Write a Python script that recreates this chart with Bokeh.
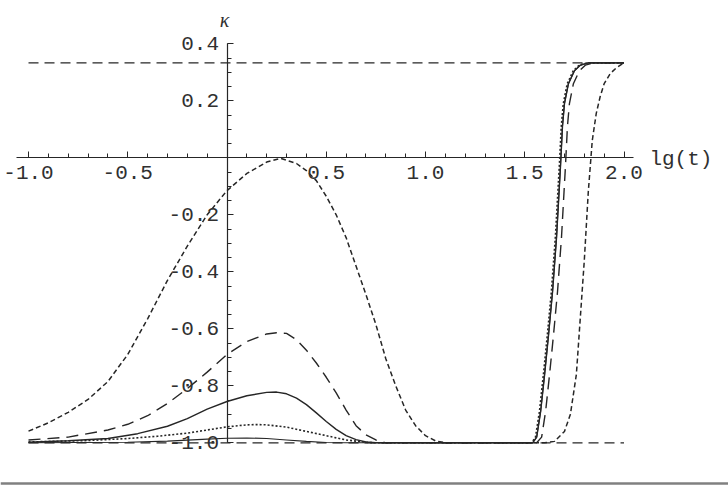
from bokeh.plotting import figure
from bokeh.models import Range1d, FixedTicker, PrintfTickFormatter, Label, Span
from bokeh.embed import file_html
from bokeh.resources import INLINE

# ---------------- data ----------------
asym_top = 1.0 / 3.0
asym_bottom = -1.0
asym_x = [-1.0, 2.0]

# short-dashed curve
xA = [-1.0, -0.9, -0.8, -0.7, -0.6, -0.5, -0.4, -0.3, -0.2, -0.1, 0.0, 0.1, 0.2, 0.27, 0.35,
      0.4, 0.45, 0.5, 0.55, 0.6, 0.65, 0.7, 0.75, 0.8, 0.85, 0.9, 0.95, 1.0, 1.05, 1.1,
      1.6, 1.65, 1.7, 1.73, 1.76, 1.78, 1.8, 1.82, 1.84, 1.86, 1.88, 1.9, 1.93, 1.96, 2.0]
yA = [-0.959, -0.93, -0.893, -0.848, -0.785, -0.69, -0.565, -0.43, -0.31, -0.2, -0.115, -0.055, -0.015, -0.002, -0.02,
      -0.045, -0.08, -0.135, -0.2, -0.28, -0.38, -0.48, -0.585, -0.705, -0.8, -0.885, -0.94, -0.975, -0.993, -1.0,
      -1.0, -0.995, -0.96, -0.9, -0.76, -0.56, -0.36, -0.12, 0.06, 0.155, 0.215, 0.26, 0.295, 0.315, 0.333]

# long-dashed curve
xB = [-1.0, -0.8, -0.6, -0.5, -0.4, -0.3, -0.2, -0.1, 0.0, 0.1, 0.2, 0.25, 0.3, 0.35, 0.4, 0.45, 0.5,
      0.55, 0.6, 0.65, 0.7, 0.75, 0.8,
      1.56, 1.585, 1.605, 1.625, 1.645, 1.665, 1.685, 1.705, 1.715, 1.725, 1.745, 1.775, 1.805, 1.845, 2.0]
yB = [-0.99, -0.98, -0.955, -0.935, -0.905, -0.862, -0.81, -0.752, -0.69, -0.645, -0.618, -0.614, -0.616,
      -0.638, -0.675, -0.72, -0.77, -0.825, -0.885, -0.94, -0.972, -0.99, -1.0,
      -1.0, -0.98, -0.89, -0.76, -0.62, -0.47, -0.28, -0.03, 0.11, 0.19, 0.26, 0.305, 0.325, 0.333, 0.333]

# solid curve
xC = [-1.0, -0.8, -0.6, -0.45, -0.3, -0.2, -0.1, 0.0, 0.1, 0.2, 0.25, 0.3, 0.35, 0.4, 0.45, 0.5, 0.55,
      0.6, 0.65, 0.7, 0.75,
      1.54, 1.56, 1.58, 1.6, 1.62, 1.64, 1.66, 1.68, 1.69, 1.7, 1.72, 1.75, 1.78, 1.82, 2.0]
yC = [-0.998, -0.993, -0.985, -0.968, -0.942, -0.915, -0.882, -0.855, -0.835, -0.823, -0.822, -0.828,
      -0.843, -0.866, -0.895, -0.925, -0.953, -0.975, -0.989, -0.997, -1.0,
      -1.0, -0.98, -0.89, -0.76, -0.62, -0.47, -0.28, -0.03, 0.11, 0.19, 0.26, 0.305, 0.325, 0.333, 0.333]

# dotted curve
xD = [-1.0, -0.7, -0.5, -0.35, -0.2, -0.1, 0.0, 0.1, 0.15, 0.2, 0.3, 0.4, 0.5, 0.6, 0.7, 0.75,
      1.535, 1.554, 1.574, 1.594, 1.614, 1.634, 1.654, 1.674, 1.684, 1.694, 1.714, 1.744, 1.774, 1.814, 2.0]
yD = [-0.997, -0.992, -0.985, -0.977, -0.966, -0.955, -0.944, -0.937, -0.936, -0.937, -0.945, -0.96,
      -0.975, -0.99, -0.998, -1.0,
      -1.0, -0.98, -0.89, -0.76, -0.62, -0.47, -0.28, -0.03, 0.11, 0.19, 0.26, 0.305, 0.325, 0.333, 0.333]

# thin solid curve (almost at -1)
xE = [-1.0, -0.5, -0.3, -0.1, 0.0, 0.1, 0.2, 0.3, 0.4, 0.5, 0.6,
      1.54, 1.56, 1.58, 1.6, 1.62, 1.64, 1.66, 1.68, 1.69, 1.7, 1.72, 1.75, 1.78, 1.82, 2.0]
yE = [-1.0, -0.998, -0.994, -0.987, -0.984, -0.983, -0.985, -0.99, -0.995, -0.999, -1.0,
      -1.0, -0.98, -0.89, -0.76, -0.62, -0.47, -0.28, -0.03, 0.11, 0.19, 0.26, 0.305, 0.325, 0.333, 0.333]

x_major = [-1.0, -0.5, 0.5, 1.0, 1.5, 2.0]
x_minor = [round(-1.0 + 0.1 * i, 2) for i in range(31)]
y_major = [-1.0, -0.8, -0.6, -0.4, -0.2, 0.2, 0.4]
y_minor = [round(-1.0 + 0.05 * i, 3) for i in range(29)]

# ---------------- figure ----------------
ink = "#262626"
p = figure(width=728, height=485, output_backend="svg", toolbar_location=None,
           x_range=Range1d(-1.1411, 2.5264), y_range=Range1d(-1.1498, 0.5519),
           min_border=0, min_border_left=0, min_border_right=0,
           min_border_top=0, min_border_bottom=0)
p.grid.visible = False
p.outline_line_color = None
p.background_fill_color = "white"
p.border_fill_color = "white"

for ax in (p.xaxis[0], p.yaxis[0]):
    ax.fixed_location = 0
    ax.axis_line_color = ink
    ax.axis_line_width = 1.2
    ax.major_tick_line_color = ink
    ax.minor_tick_line_color = ink
    ax.major_tick_in = 6
    ax.major_tick_out = 0
    ax.minor_tick_in = 4
    ax.minor_tick_out = 0
    ax.major_label_text_font = "Liberation Mono"
    ax.major_label_text_font_size = "21px"
    ax.major_label_text_color = "#303030"
    ax.major_label_standoff = 8
    ax.formatter = PrintfTickFormatter(format="%.1f")

p.xaxis.ticker = FixedTicker(ticks=x_major, minor_ticks=x_minor)
p.yaxis.ticker = FixedTicker(ticks=y_major, minor_ticks=y_minor)
p.xaxis.bounds = (-1.06, 2.05)
p.yaxis.bounds = (-1.0, 0.4)

# asymptotes
p.line(asym_x, [asym_top, asym_top], line_color=ink, line_width=1.3, line_dash="10 6")
p.line(asym_x, [asym_bottom, asym_bottom], line_color=ink, line_width=1.3, line_dash="10 6")

# curves
p.line(xE, yE, line_color=ink, line_width=1.1)
p.line(xD, yD, line_color=ink, line_width=1.6, line_dash="2 2")
p.line(xC, yC, line_color=ink, line_width=1.4)
p.line(xB, yB, line_color=ink, line_width=1.4, line_dash="12 7")
p.line(xA, yA, line_color=ink, line_width=1.5, line_dash="5 3")

p.add_layout(Label(x=-0.0126, y=0.482, text="κ", text_align="center", text_baseline="middle",
                   text_font="Liberation Serif", text_font_style="italic",
                   text_font_size="20px", text_color="#303030"))
p.add_layout(Label(x=2.128, y=-0.006, text="lg(t)", text_align="left", text_baseline="middle",
                   text_font="Liberation Mono", text_font_size="21px", text_color="#303030"))

# separator rule at the bottom of the page
p.add_layout(Span(location=-1.1428, dimension="width", line_color="#808080", line_width=2.5))

open("out.html", "w").write(file_html(p, INLINE))
